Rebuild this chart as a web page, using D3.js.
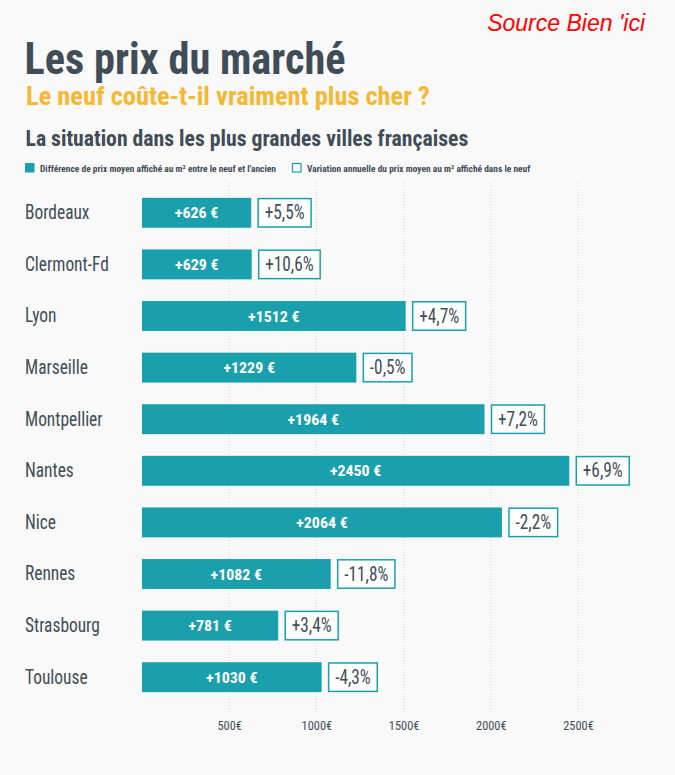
<!DOCTYPE html>
<html><head><meta charset="utf-8">
<script src="https://cdn.jsdelivr.net/npm/d3@7"></script>
<style>
html,body{margin:0;padding:0;background:#f9f9f9;}
svg{display:block;}
</style></head>
<body>
<svg id="chart" width="675" height="775"></svg>
<script>
const cities = ["Bordeaux","Clermont-Fd","Lyon","Marseille","Montpellier","Nantes","Nice","Rennes","Strasbourg","Toulouse"];
const priceDiff = [626,629,1512,1229,1964,2450,2064,1082,781,1030];
const annualVar = [5.5,10.6,4.7,-0.5,7.2,6.9,-2.2,-11.8,3.4,-4.3];
const tickValues = [500,1000,1500,2000,2500];
const legendLabels = ["Différence de prix moyen affiché au m² entre le neuf et l'ancien","Variation annuelle du prix moyen au m² affiché dans le neuf"];

const TEAL = "#1aa0ad", DARK = "#3f4d58", YEL = "#f6b733";
const FONT = "'Roboto Condensed','Roboto',sans-serif";

const svg = d3.select("#chart");
svg.append("rect").attr("width",675).attr("height",775).attr("fill","#f9f9f9");

// horizontal squeeze factor so that a sample string reaches a given width
function calib(sample, size, weight, width){
  const t = svg.append("text").attr("font-family",FONT).attr("font-size",size).attr("font-weight",weight).text(sample);
  const w = t.node().getComputedTextLength(); t.remove();
  return width / w;
}
function ctext(g, x, y, str, o){
  return g.append("text")
    .attr("transform",`translate(${x},${y}) scale(${o.sx},1)`)
    .attr("font-family",FONT).attr("font-size",o.size)
    .attr("font-weight",o.weight||"normal").attr("fill",o.fill||DARK)
    .attr("text-anchor",o.anchor||"start").text(str);
}

// Source
svg.append("text").attr("x",645).attr("y",31).attr("text-anchor","end")
  .attr("font-family","'Liberation Sans',Arial,sans-serif").attr("font-style","italic")
  .attr("font-size",23).attr("fill","#ff0000").text("Source Bien 'ici");

const tS = {size:43.5, weight:"bold", fill:DARK}; tS.sx = calib("Les prix du marché",43.5,"bold",321);
ctext(svg,24.5,73.5,"Les prix du marché",tS);
const sS = {size:26, weight:"bold", fill:YEL}; sS.sx = calib("Le neuf coûte-t-il vraiment plus cher ?",26,"bold",404);
ctext(svg,26,105,"Le neuf coûte-t-il vraiment plus cher ?",sS);
const hS = {size:22, weight:"bold", fill:DARK}; hS.sx = calib("La situation dans les plus grandes villes françaises",22,"bold",443);
ctext(svg,25.5,145.5,"La situation dans les plus grandes villes françaises",hS);

// Legend
const lS = {size:9.3, weight:"bold", fill:DARK}; lS.sx = calib(legendLabels[0],9.3,"bold",236);
svg.append("rect").attr("x",25).attr("y",163).attr("width",9.5).attr("height",9.5).attr("fill",TEAL);
ctext(svg,40,171.5,legendLabels[0],lS);
svg.append("rect").attr("x",292.5).attr("y",163.5).attr("width",8.5).attr("height",8.5).attr("fill","#fff").attr("stroke",TEAL).attr("stroke-width",1.2);
ctext(svg,307,171.5,legendLabels[1],lS);

const x = d3.scaleLinear().domain([0,2500]).range([142,578]);
const y = d3.scaleBand().domain(cities).range([187,703]).paddingInner(0.42).paddingOuter(0.21);

// gridlines
svg.append("g").selectAll("line").data(tickValues).join("line")
  .attr("x1",d=>x(d)).attr("x2",d=>x(d)).attr("y1",183).attr("y2",714)
  .attr("stroke","#d4d4d4").attr("stroke-width",1).attr("stroke-dasharray","1,2");

// axis
const tkSx = calib("500€",12.5,"normal",24.5);
const axis = d3.axisBottom(x).tickValues(tickValues).tickFormat(d=>d+"€").tickSize(0);
const ag = svg.append("g").attr("transform","translate(0,718)").call(axis);
ag.select(".domain").remove();
ag.selectAll(".tick text").attr("font-family",FONT).attr("font-size",12.5).attr("fill",DARK)
  .attr("dy","0.71em").attr("y",3).attr("transform",`scale(${tkSx},1)`);

const cS = {size:19.3, fill:DARK}; cS.sx = calib("Bordeaux",19.3,"normal",64.5);
const bS = {size:15, weight:"bold", fill:"#fff", anchor:"middle"}; bS.sx = calib("+626 €",15,"bold",43.5);
const vS = {size:19.5, fill:DARK}; vS.sx = calib("+5,5%",19.5,"normal",40);

const rows = svg.append("g").selectAll("g").data(cities).join("g");
rows.each(function(c,i){
  const g = d3.select(this);
  const yc = y(c) + y.bandwidth()/2;
  ctext(g,25,yc+6.3,c,cS);
  g.append("rect").attr("x",x(0)).attr("y",y(c)).attr("width",x(priceDiff[i])-x(0)).attr("height",y.bandwidth()).attr("fill",TEAL);
  ctext(g,(x(0)+x(priceDiff[i]))/2,yc+5.5,"+"+priceDiff[i]+" €",bS);
  const lbl = (annualVar[i]>0?"+":"")+String(annualVar[i].toFixed(1)).replace(".",",")+"%";
  const bx = x(priceDiff[i])+7;
  const box = g.append("rect").attr("x",bx).attr("y",y(c)+0.75).attr("height",y.bandwidth()-1.5).attr("fill","#fff").attr("stroke",TEAL).attr("stroke-width",1.5);
  const t = ctext(g,bx+6.5,yc+6.5,lbl,vS);
  const w = t.node().getComputedTextLength()*vS.sx;
  box.attr("width",w+13);
});
</script>
</body></html>
